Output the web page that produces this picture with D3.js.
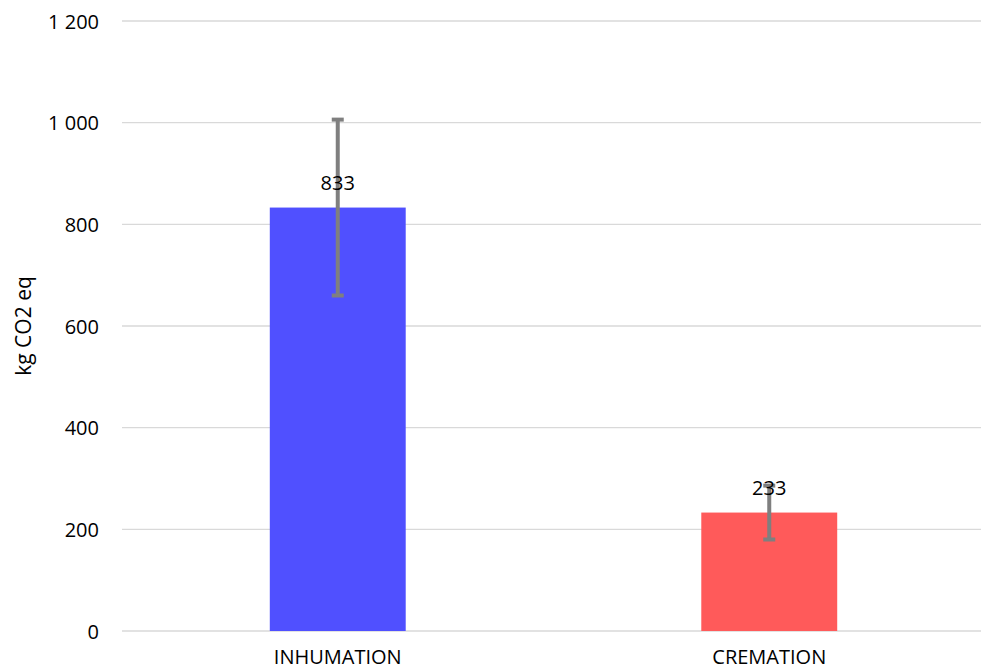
<!DOCTYPE html>
<html><head><meta charset="utf-8">
<script src="https://cdn.jsdelivr.net/npm/d3@7"></script>
<style>body{margin:0;background:#fff}text{font-family:"Open Sans","Noto Sans",sans-serif}</style>
</head><body><svg id="c" width="981" height="671"></svg>
<script>
const categories = ["INHUMATION", "CREMATION"];
const values = [833, 233];
const errors = [173, 53];
const colors = ["#5050FF", "#FF5A5A"];
const yTicks = [0, 200, 400, 600, 800, 1000, 1200];
const yTitle = "kg CO2 eq";

const svg = d3.select("#c");
const x = d3.scaleBand().domain(categories).range([122, 985]).paddingInner(0.685).paddingOuter(0.3425);
const y = d3.scaleLinear().domain([0, 1200]).range([631, 21]);
const fmt = v => d3.format(",")(v).replace(/,/g, " ");

svg.append("g").selectAll("line").data(yTicks).join("line")
  .attr("x1", 122).attr("x2", 982).attr("y1", d => y(d)).attr("y2", d => y(d))
  .attr("stroke", "#d9d9d9").attr("stroke-width", 1.3);

const yAxis = svg.append("g").attr("transform", "translate(99,0)")
  .call(d3.axisLeft(y).tickValues(yTicks).tickFormat(fmt).tickSize(0).tickPadding(0));
yAxis.select(".domain").remove();
yAxis.selectAll("text").attr("font-size", 20).attr("fill", "#000").attr("dy", "0.35em");

svg.append("text").attr("transform", "translate(24,326) rotate(-90)")
  .attr("text-anchor", "middle").attr("dy", "0.35em").attr("font-size", 21).text(yTitle);

const data = categories.map((c, i) => ({c, v: values[i], e: errors[i], col: colors[i]}));
svg.append("g").selectAll("rect").data(data).join("rect")
  .attr("x", d => x(d.c)).attr("width", x.bandwidth())
  .attr("y", d => y(d.v)).attr("height", d => y(0) - y(d.v)).attr("fill", d => d.col);

const eb = svg.append("g").selectAll("g").data(data).join("g");
eb.append("line").attr("x1", d => x(d.c) + x.bandwidth() / 2).attr("x2", d => x(d.c) + x.bandwidth() / 2)
  .attr("y1", d => y(d.v + d.e)).attr("y2", d => y(d.v - d.e)).attr("stroke", "#7f7f7f").attr("stroke-width", 4);
eb.selectAll(".cap").data(d => [[d, d.v + d.e], [d, d.v - d.e]]).join("line")
  .attr("x1", ([d]) => x(d.c) + x.bandwidth() / 2 - 6).attr("x2", ([d]) => x(d.c) + x.bandwidth() / 2 + 6)
  .attr("y1", ([, v]) => y(v)).attr("y2", ([, v]) => y(v)).attr("stroke", "#7f7f7f").attr("stroke-width", 4);

svg.append("g").selectAll("text").data(data).join("text")
  .attr("x", d => x(d.c) + x.bandwidth() / 2).attr("y", d => y(d.v) - 25)
  .attr("text-anchor", "middle").attr("dy", "0.35em").attr("font-size", 20).attr("fill", "#000")
  .text(d => fmt(d.v));

const xAxis = svg.append("g").attr("transform", "translate(0,631)")
  .call(d3.axisBottom(x).tickSize(0).tickPadding(0));
xAxis.select(".domain").remove();
xAxis.selectAll("text").attr("font-size", 20).attr("fill", "#000").attr("dy", "0").attr("y", 33);
</script></body></html>
